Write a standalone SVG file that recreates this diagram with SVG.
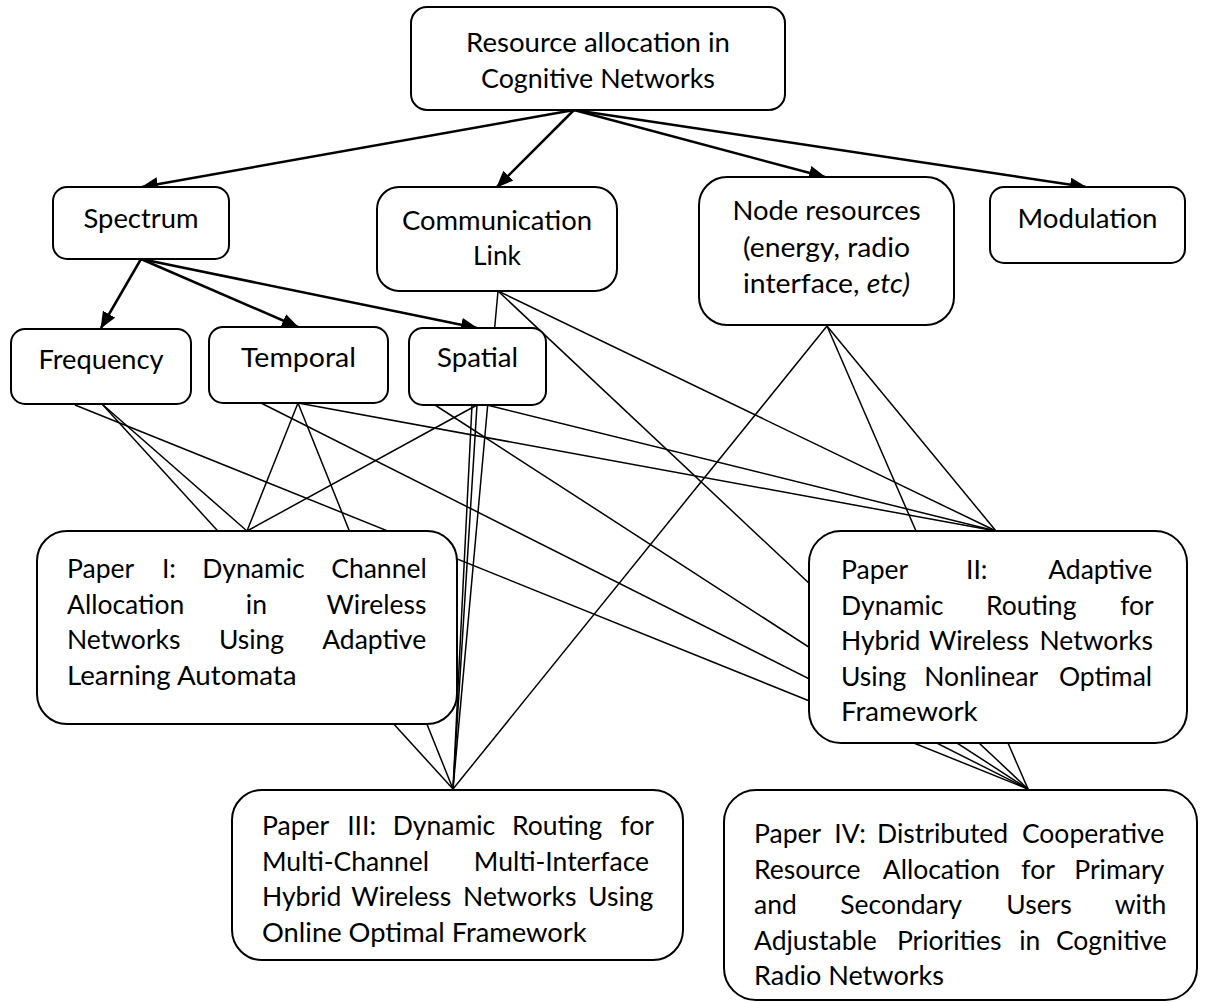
<svg xmlns="http://www.w3.org/2000/svg" width="1207" height="1003" viewBox="0 0 1207 1003">
<style>
.box{fill:#fff;stroke:#000;stroke-width:2}
.t{font-family:Lato,"Open Sans",sans-serif;font-size:26.5px;fill:#000}
.m{text-anchor:middle}
.c{stroke:#000;stroke-width:1.5;fill:none}
.a{stroke:#000;stroke-width:2.5;fill:none;marker-end:url(#ah)}
</style>
<defs>
<marker id="ah" markerUnits="userSpaceOnUse" markerWidth="17" markerHeight="14" refX="16" refY="7" orient="auto">
<path d="M0,0 L17,7 L0,14 z" fill="#000"/>
</marker>
</defs>
<g id="connectors">
<path class="a" d="M574,110 L142,187"/>
<path class="a" d="M574,110 L497,187"/>
<path class="a" d="M574,110 L825,177"/>
<path class="a" d="M574,110 L1086,187"/>
<path class="a" d="M141,259 L101,328"/>
<path class="a" d="M141,259 L298,327"/>
<path class="a" d="M141,259 L477,328"/>
<path class="c" d="M75,405 L1028,789"/>
<path class="c" d="M102,404 L247,531"/>
<path class="c" d="M102,404 L453,789"/>
<path class="c" d="M298,403 L247,531"/>
<path class="c" d="M298,403 L453,789"/>
<path class="c" d="M298,403 L996,531"/>
<path class="c" d="M261,403 L1028,789"/>
<path class="c" d="M477,405 L247,531"/>
<path class="c" d="M477,405 L453,789"/>
<path class="c" d="M472,405 L453,789"/>
<path class="c" d="M487,405 L996,531"/>
<path class="c" d="M435,405 L1028,789"/>
<path class="c" d="M498,291 L453,789"/>
<path class="c" d="M498,291 L996,531"/>
<path class="c" d="M498,291 L1028,789"/>
<path class="c" d="M827,326 L453,789"/>
<path class="c" d="M827,326 L996,531"/>
<path class="c" d="M827,326 L1028,789"/>
</g>
<g id="root">
<rect class="box" x="411" y="7" width="374" height="103" rx="16"/>
<text class="t m" x="598" y="52" textLength="264" lengthAdjust="spacingAndGlyphs">Resource allocation in</text>
<text class="t m" x="598" y="88" textLength="234" lengthAdjust="spacingAndGlyphs">Cognitive Networks</text>
</g>
<g id="spectrum">
<rect class="box" x="53" y="187" width="176" height="72" rx="14"/>
<text class="t m" x="141" y="228" textLength="115" lengthAdjust="spacingAndGlyphs">Spectrum</text>
</g>
<g id="comm-link">
<rect class="box" x="377" y="187" width="240" height="104" rx="22"/>
<text class="t m" x="497" y="230" textLength="190" lengthAdjust="spacingAndGlyphs">Communication</text>
<text class="t m" x="497" y="265" textLength="48" lengthAdjust="spacingAndGlyphs">Link</text>
</g>
<g id="node-resources">
<rect class="box" x="699" y="177" width="255" height="148" rx="28"/>
<text class="t m" x="826.5" y="220" textLength="188" lengthAdjust="spacingAndGlyphs">Node resources</text>
<text class="t m" x="826.5" y="257" textLength="167" lengthAdjust="spacingAndGlyphs">(energy, radio</text>
<text class="t m" x="826.5" y="293" textLength="167" lengthAdjust="spacingAndGlyphs">interface, <tspan font-style="italic">etc)</tspan></text>
</g>
<g id="modulation">
<rect class="box" x="990" y="187" width="195" height="76" rx="14"/>
<text class="t m" x="1087.5" y="228" textLength="140" lengthAdjust="spacingAndGlyphs">Modulation</text>
</g>
<g id="frequency">
<rect class="box" x="11" y="329" width="180" height="75" rx="14"/>
<text class="t m" x="101" y="369" textLength="125" lengthAdjust="spacingAndGlyphs">Frequency</text>
</g>
<g id="temporal">
<rect class="box" x="209" y="327" width="179" height="76" rx="14"/>
<text class="t m" x="298.5" y="367" textLength="115" lengthAdjust="spacingAndGlyphs">Temporal</text>
</g>
<g id="spatial">
<rect class="box" x="409" y="328" width="137" height="77" rx="14"/>
<text class="t m" x="477.5" y="367" textLength="81" lengthAdjust="spacingAndGlyphs">Spatial</text>
</g>
<g id="paper1">
<rect class="box" x="37" y="531" width="420" height="193" rx="30"/>
<text class="t" y="578"><tspan x="67">Paper</tspan><tspan x="161.9">I:</tspan><tspan x="202.2">Dynamic</tspan><tspan x="331.2">Channel</tspan></text>
<text class="t" y="613.5"><tspan x="67">Allocation</tspan><tspan x="245.8">in</tspan><tspan x="326.5">Wireless</tspan></text>
<text class="t" y="649"><tspan x="67">Networks</tspan><tspan x="218.9">Using</tspan><tspan x="322.2">Adaptive</tspan></text>
<text class="t" x="67" y="684.5" textLength="229.5" lengthAdjust="spacingAndGlyphs">Learning Automata</text>
</g>
<g id="paper2">
<rect class="box" x="809" y="531" width="378" height="212" rx="32"/>
<text class="t" y="579"><tspan x="841">Paper</tspan><tspan x="966">II:</tspan><tspan x="1048.2">Adaptive</tspan></text>
<text class="t" y="614.5"><tspan x="841">Dynamic</tspan><tspan x="986">Routing</tspan><tspan x="1120.2">for</tspan></text>
<text class="t" y="650"><tspan x="841">Hybrid</tspan><tspan x="928.9">Wireless</tspan><tspan x="1039.5">Networks</tspan></text>
<text class="t" y="685.5"><tspan x="841">Using</tspan><tspan x="924.3">Nonlinear</tspan><tspan x="1058.9">Optimal</tspan></text>
<text class="t" x="841" y="721" textLength="136.6" lengthAdjust="spacingAndGlyphs">Framework</text>
</g>
<g id="paper3">
<rect class="box" x="232" y="790" width="451" height="170" rx="30"/>
<text class="t" y="835"><tspan x="262">Paper</tspan><tspan x="347.2">III:</tspan><tspan x="392.7">Dynamic</tspan><tspan x="511.9">Routing</tspan><tspan x="620.3">for</tspan></text>
<text class="t" y="870.5"><tspan x="262">Multi-Channel</tspan><tspan x="473.8">Multi-Interface</tspan></text>
<text class="t" y="906"><tspan x="262">Hybrid</tspan><tspan x="351.2">Wireless</tspan><tspan x="463.1">Networks</tspan><tspan x="588.1">Using</tspan></text>
<text class="t" x="262" y="941.5" textLength="324.7" lengthAdjust="spacingAndGlyphs">Online Optimal Framework</text>
</g>
<g id="paper4">
<rect class="box" x="724" y="790" width="473" height="210" rx="32"/>
<text class="t" y="843"><tspan x="754">Paper</tspan><tspan x="834.3">IV:</tspan><tspan x="877.1">Distributed</tspan><tspan x="1021.9">Cooperative</tspan></text>
<text class="t" y="878.5"><tspan x="754">Resource</tspan><tspan x="882.8">Allocation</tspan><tspan x="1021.3">for</tspan><tspan x="1074.3">Primary</tspan></text>
<text class="t" y="914"><tspan x="754">and</tspan><tspan x="840.2">Secondary</tspan><tspan x="1006.3">Users</tspan><tspan x="1114.8">with</tspan></text>
<text class="t" y="949.5"><tspan x="754">Adjustable</tspan><tspan x="896.9">Priorities</tspan><tspan x="1019.2">in</tspan><tspan x="1055.9">Cognitive</tspan></text>
<text class="t" x="754" y="985" textLength="190.1" lengthAdjust="spacingAndGlyphs">Radio Networks</text>
</g>
</svg>
